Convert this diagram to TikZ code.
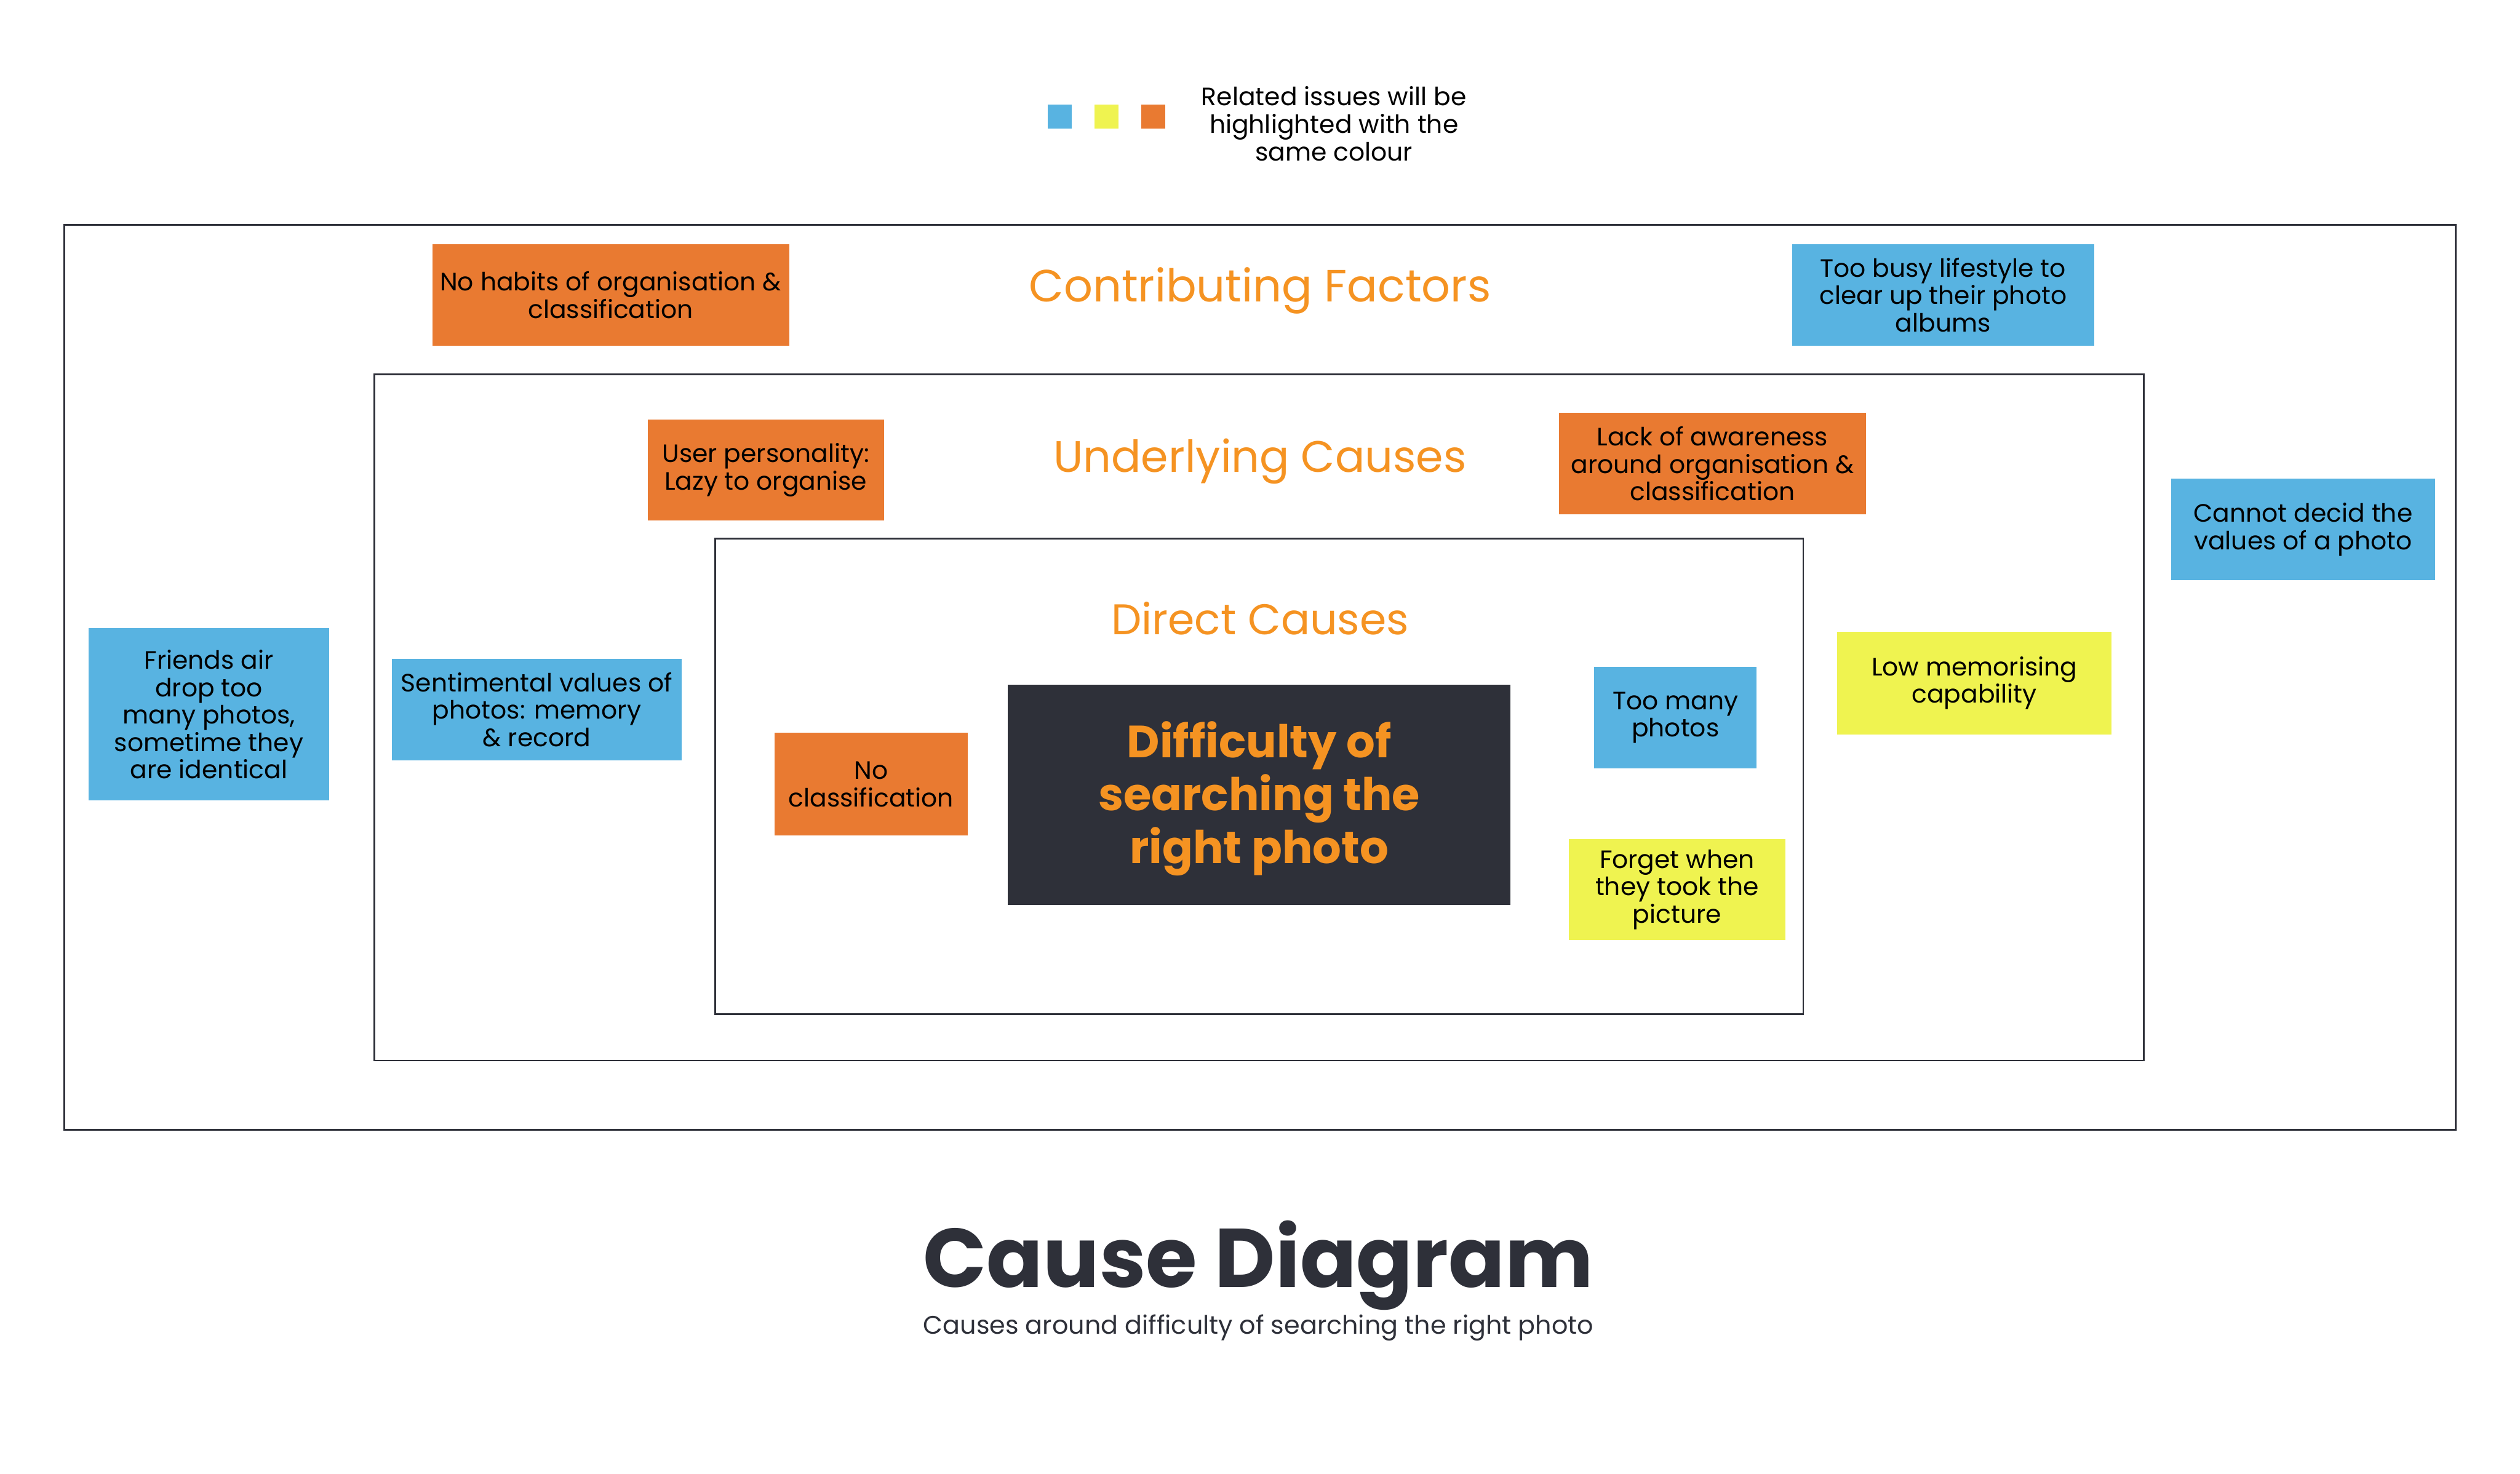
\documentclass[tikz,border=0pt]{standalone}
\usepackage{fontspec}
\setmainfont{Poppins}
\usepackage{tikz}

\definecolor{noteblue}{HTML}{58B3E1}
\definecolor{noteyellow}{HTML}{EFF350}
\definecolor{noteorange}{HTML}{E97A31}
\definecolor{titleorange}{HTML}{F59322}
\definecolor{darkgrey}{HTML}{2E3039}

\tikzset{
  note/.style={align=center, inner sep=0pt, font=\fontsize{8.9}{9.7}\selectfont, text=black},
  bluenote/.style={note, fill=noteblue},
  yellownote/.style={note, fill=noteyellow},
  orangenote/.style={note, fill=noteorange},
  frame/.style={draw=darkgrey, line width=0.6pt},
  layertitle/.style={text=titleorange, inner sep=0pt}
}

\begin{document}
\begin{tikzpicture}[x=0.02cm, y=-0.02cm]
 \useasboundingbox (0,0) rectangle (1568,917);

 % legend
 \node[fill=noteblue, minimum size=0.3cm, inner sep=0pt] (keyblue) at (659.5,72.5) {};
 \node[fill=noteyellow, minimum size=0.3cm, inner sep=0pt] (keyyellow) at (688.5,72.5) {};
 \node[fill=noteorange, minimum size=0.3cm, inner sep=0pt] (keyorange) at (717.5,72.5) {};
 \node[note] (keytext) at (830,77) {Related issues will be\\highlighted with the\\same colour};

 % the three layers
 \draw[frame] (40,140) rectangle (1528,703);
 \draw[frame] (233,233) rectangle (1334,660);
 \draw[frame] (445,335) rectangle (1122,631);

 \node[layertitle, font=\fontsize{16}{18}\selectfont] (contrib) at (784,181) {Contributing Factors};
 \node[layertitle, font=\fontsize{15.6}{18}\selectfont] (underlying) at (784,287) {Underlying Causes};
 \node[layertitle, font=\fontsize{15.2}{17}\selectfont] (direct) at (784,385) {Direct Causes};

 % problem
 \node[fill=darkgrey, minimum width=6.26cm, minimum height=2.74cm, inner sep=0pt] (problem) at (783.5,494.5) {};
 \node[align=center, text=titleorange, font=\bfseries\fontsize{16}{18.7}\selectfont]
   (problemtext) at (783.5,497) {Difficulty of\\searching the\\right photo};

 % contributing factors
 \node[orangenote, minimum width=4.44cm, minimum height=1.26cm] (habits) at (380,183.5)
   {No habits of organisation \&\\classification};
 \node[bluenote, minimum width=3.76cm, minimum height=1.26cm] (busy) at (1209,183.5)
   {Too busy lifestyle to\\clear up their photo\\albums};
 \node[bluenote, minimum width=3.28cm, minimum height=1.26cm] (values) at (1433,329.5)
   {Cannot decid the\\values of a photo};
 \node[bluenote, minimum width=3.0cm, minimum height=2.14cm] (airdrop) at (130,444.5)
   {Friends air\\drop too\\many photos,\\sometime they\\are identical};

 % underlying causes
 \node[orangenote, minimum width=2.94cm, minimum height=1.26cm] (lazy) at (476.5,292.5)
   {User personality:\\Lazy to organise};
 \node[orangenote, minimum width=3.82cm, minimum height=1.26cm] (awareness) at (1065.5,288.5)
   {Lack of awareness\\around organisation \&\\classification};
 \node[bluenote, minimum width=3.6cm, minimum height=1.26cm] (sentiment) at (334,441.5)
   {Sentimental values of\\photos: memory\\\& record};
 \node[yellownote, minimum width=3.42cm, minimum height=1.28cm] (memory) at (1228.5,425)
   {Low memorising\\capability};

 % direct causes
 \node[orangenote, minimum width=2.4cm, minimum height=1.28cm] (noclass) at (542,488)
   {No\\classification};
 \node[bluenote, minimum width=2.02cm, minimum height=1.26cm] (toomany) at (1042.5,446.5)
   {Too many\\photos};
 \node[yellownote, minimum width=2.7cm, minimum height=1.26cm] (forget) at (1043.5,553.5)
   {Forget when\\they took the\\picture};

 % heading
 \node[text=darkgrey, font=\bfseries\fontsize{29.5}{32}\selectfont, inner sep=0pt, anchor=base] (heading) at (783,801) {Cause Diagram};
 \node[text=darkgrey, font=\fontsize{9}{10}\selectfont, inner sep=0pt, anchor=base] (subheading) at (783,830)
   {Causes around difficulty of searching the right photo};
\end{tikzpicture}
\end{document}
